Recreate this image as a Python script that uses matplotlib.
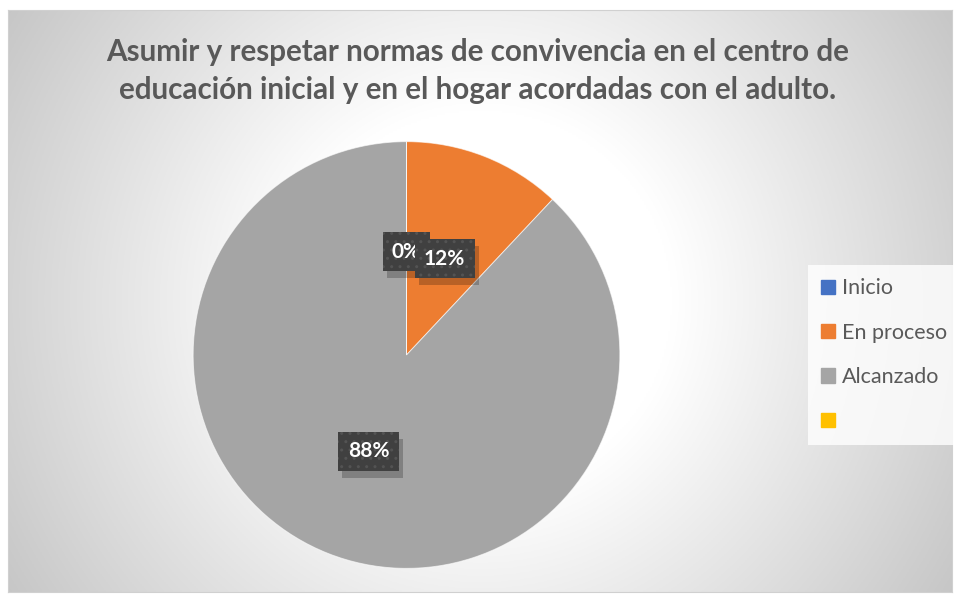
import matplotlib
matplotlib.use("Agg")
import matplotlib.pyplot as plt
import matplotlib.patches as mpatches
import numpy as np

# ── Datos ────────────────────────────────────────────────────────────────────
categories = ["Inicio", "En proceso", "Alcanzado", ""]
values     = [0, 12, 88, 0]
colors     = ["#4472C4", "#ED7D31", "#A5A5A5", "#FFC000"]
title = ("Asumir y respetar normas de convivencia en el centro de\n"
         "educación inicial y en el hogar acordadas con el adulto.")

FONT = "Lato"
C_TEXT = "#595959"

W, H = 955, 595
fig = plt.figure(figsize=(W / 100, H / 100), dpi=100)
fig.patch.set_facecolor("white")

# ── Fondo con degradado radial (área del gráfico) ────────────────────────────
bw, bh = 944, 582
bg = fig.add_axes([8 / W, 3 / H, bw / W, bh / H])
xx, yy = np.meshgrid(np.linspace(-bw / 2, bw / 2, 472),
                     np.linspace(-bh / 2, bh / 2, 291))
d = np.sqrt(xx ** 2 + yy ** 2)
v = 1.0 - 0.00061 * np.clip(d - 192, 0, None)
bg.imshow(np.dstack([v, v, v]), extent=[0, 1, 0, 1], aspect="auto", zorder=0)
bg.set_xlim(0, 1)
bg.set_ylim(0, 1)
bg.set_xticks([])
bg.set_yticks([])
for s in bg.spines.values():
    s.set_color("#d0d0d0")
    s.set_linewidth(0.8)

fig.text(0.5, 1 - 71 / H, title, ha="center", va="center", fontsize=21.3,
         fontweight="bold", color=C_TEXT, family=FONT, linespacing=1.45)

# ── Pastel ───────────────────────────────────────────────────────────────────
cx, cy, R = 406.5, 595 - 355, 215.5
ax = fig.add_axes([(cx - R) / W, (cy - R) / H, 2 * R / W, 2 * R / H])
wedges, _ = ax.pie(values, colors=colors, startangle=90, counterclock=False,
                   radius=1,
                   wedgeprops=dict(linewidth=0.7, edgecolor=(1, 1, 1, 0.6)))
ax.set_xlim(-1.01, 1.01)
ax.set_ylim(-1.01, 1.01)
ax.set_aspect("equal")
ax.axis("off")

total = sum(values)
for w, cat, val in zip(wedges, categories, values):
    if not cat:
        continue
    ang = np.deg2rad((w.theta1 + w.theta2) / 2)
    x, y = 0.485 * np.cos(ang), 0.485 * np.sin(ang)
    lab = f"{val / total * 100:.0f}%"
    # sombra
    ax.annotate(lab, (x, y), xytext=(3, -5), textcoords="offset points",
                ha="center", va="center", fontsize=15, fontweight="bold",
                family=FONT, color=(0, 0, 0, 0),
                bbox=dict(boxstyle="square,pad=0.45", fc=(0, 0, 0, 0.22),
                          ec="none"), zorder=4)
    ax.text(x, y, lab, ha="center", va="center", fontsize=15,
            fontweight="bold", family=FONT, color="white", zorder=5,
            bbox=dict(boxstyle="square,pad=0.45", fc="#404040", ec="#535353",
                      lw=0, hatch=".."))

# ── Leyenda ──────────────────────────────────────────────────────────────────
handles = [mpatches.Patch(color=c, label=l) for c, l in zip(colors, categories)]
leg = fig.legend(handles=handles, loc="upper left",
                 bbox_to_anchor=(808 / W, 1 - 265 / H),
                 prop=dict(family=FONT, size=15.5), labelcolor=C_TEXT,
                 frameon=True, fancybox=False, handlelength=0.65,
                 handleheight=0.65, handletextpad=0.3, labelspacing=1.13,
                 borderpad=0.62, borderaxespad=0)
leg.get_frame().set_facecolor((1, 1, 1, 0.3))
leg.get_frame().set_edgecolor("none")

fig.savefig("out.png", dpi=100)
